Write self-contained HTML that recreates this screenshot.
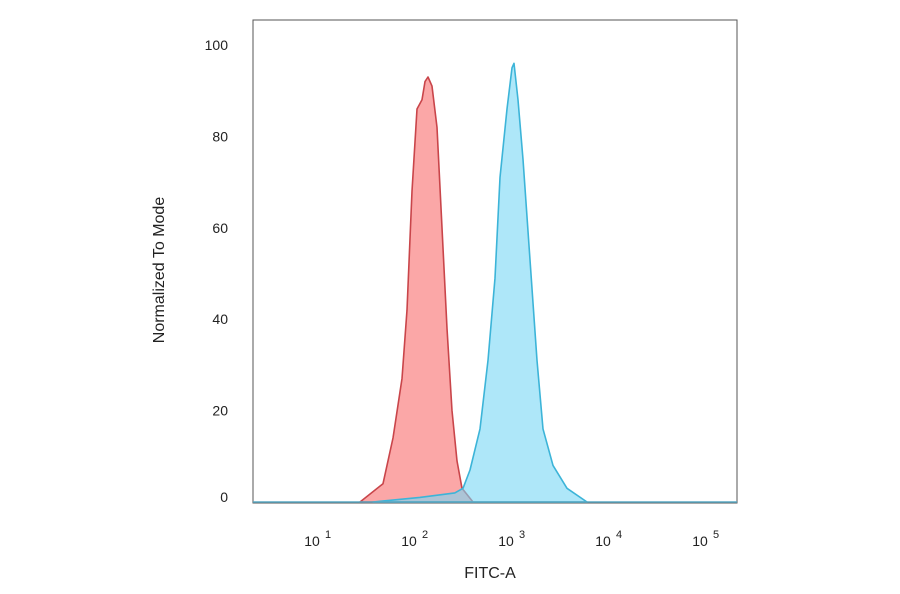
<!DOCTYPE html>
<html><head><meta charset="utf-8"><style>
body{margin:0;background:#fff;}
svg{display:block;font-family:"Liberation Sans",Arial,sans-serif;}
</style></head><body>
<svg id="chart" width="900" height="594">
<rect x="253" y="20" width="484" height="483" fill="none" stroke="#555" stroke-width="1"/>
<g id="marks"></g>
<g id="axes"></g>
<text x="490" y="578" font-size="16" text-anchor="middle" fill="#222">FITC-A</text>
<text transform="translate(164,270) rotate(-90)" font-size="16" text-anchor="middle" fill="#222">Normalized To Mode</text>
</svg>
<script>
const yTicks=[0,20,40,60,80,100];
const xTickExp=[1,2,3,4,5];
const redLog=[1.433,1.670,1.773,1.866,1.918,1.969,2.021,2.072,2.103,2.134,2.175,2.227,2.278,2.330,2.381,2.433,2.485,2.598];
const redVal=[0,4,14,27,42,68,86,88,92,93,91,82,60,38,20,9,3,0];
const blueLog=[1.567,2.05,2.41,2.495,2.567,2.670,2.753,2.825,2.876,2.948,3.0,3.021,3.062,3.113,3.186,3.258,3.320,3.423,3.567,3.773];
const blueVal=[0,1,2,3,7,16,31,49,71,86,95,96,88,75,53,31,16,8,3,0];
const X=l=>318+(l-1)*97;
const Y=v=>502-4.57*v;
const NS="http://www.w3.org/2000/svg";
const marks=document.getElementById('marks'),axes=document.getElementById('axes');
function mk(t,a,p){const e=document.createElementNS(NS,t);for(const k in a)e.setAttribute(k,a[k]);p.appendChild(e);return e;}
function area(ls,vs,fill,stroke,name){
  let d='M'+X(ls[0])+','+Y(0);
  ls.forEach((l,i)=>{d+=' L'+X(l).toFixed(1)+','+Y(vs[i]).toFixed(1);});
  d+=' L'+X(ls[ls.length-1])+','+Y(0)+' Z';
  const p=mk('path',{d:d,fill:fill,stroke:stroke,'stroke-width':1.6,'stroke-linejoin':'round'},marks);
  
  
}
area(redLog,redVal,'rgba(250,130,130,0.7)','#c9454a','red-histogram');
area(blueLog,blueVal,'rgba(120,215,245,0.6)','#3cb4d8','blue-histogram');
const bl=mk('line',{x1:253,x2:737,y1:502,y2:502,stroke:'#5aa9c4','stroke-width':1.5},marks);


yTicks.forEach(v=>{
  const t=mk('text',{x:228,y:Y(v)+(v===0?0:5),'font-size':14,'text-anchor':'end',fill:'#222'},axes);
  t.textContent=v;
  
  
});
xTickExp.forEach(e=>{
  const t=mk('text',{x:X(e)-6,y:546,'font-size':14,'text-anchor':'middle',fill:'#222'},axes);
  t.textContent='10';
  
  
  const s=mk('text',{x:X(e)+10,y:538,'font-size':11,'text-anchor':'middle',fill:'#222'},axes);
  s.textContent=e;
  
  
});
</script>
</body></html>
